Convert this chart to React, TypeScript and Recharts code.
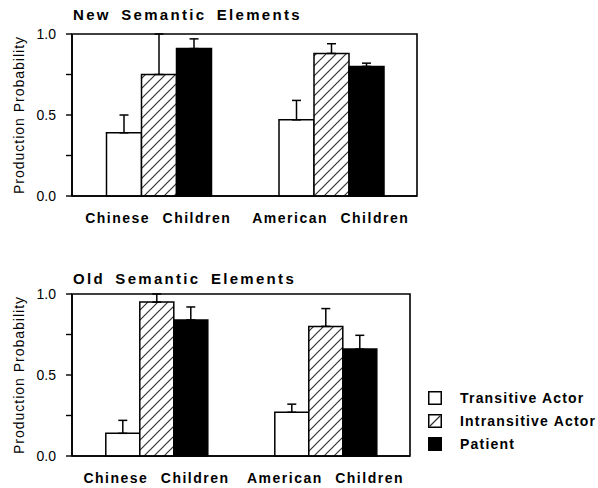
import { BarChart, Bar, XAxis, YAxis, ErrorBar, ReferenceArea, Label } from 'recharts';

const groups = ['Chinese Children', 'American Children'];
const seriesNames = ['Transitive Actor', 'Intransitive Actor', 'Patient'];

// New semantic elements: mean and upper error
const newTransitive = [0.39, 0.47];
const newTransitiveErr = [0.11, 0.12];
const newIntransitive = [0.75, 0.88];
const newIntransitiveErr = [0.25, 0.06];
const newPatient = [0.91, 0.80];
const newPatientErr = [0.06, 0.02];

// Old semantic elements
const oldTransitive = [0.14, 0.27];
const oldTransitiveErr = [0.08, 0.05];
const oldIntransitive = [0.95, 0.80];
const oldIntransitiveErr = [0.05, 0.11];
const oldPatient = [0.84, 0.66];
const oldPatientErr = [0.08, 0.085];

const yTicks = [0, 0.25, 0.5, 0.75, 1];

const buildRows = (t: number[], te: number[], i: number[], ie: number[], p: number[], pe: number[]) =>
  groups.map((group, k) => ({
    group,
    transitive: t[k],
    transitiveErr: [0, te[k]],
    intransitive: i[k],
    intransitiveErr: [0, ie[k]],
    patient: p[k],
    patientErr: [0, pe[k]],
  }));

const newData = buildRows(newTransitive, newTransitiveErr, newIntransitive, newIntransitiveErr, newPatient, newPatientErr);
const oldData = buildRows(oldTransitive, oldTransitiveErr, oldIntransitive, oldIntransitiveErr, oldPatient, oldPatientErr);

const FONT = '"Liberation Sans", Arial, Helvetica, sans-serif';

const titleStyle: React.CSSProperties = {
  position: 'absolute',
  left: 73,
  fontFamily: FONT,
  fontWeight: 'bold',
  fontSize: 15,
  letterSpacing: 2.3,
  wordSpacing: 4,
  color: '#000',
  whiteSpace: 'nowrap',
  lineHeight: '15px',
};

type PanelProps = {
  data: ReturnType<typeof buildRows>;
  rightMargin: number;
  patternId: string;
};

function Panel({ data, rightMargin, patternId }: PanelProps) {
  return (
    <BarChart
      width={598}
      height={240}
      data={data}
      margin={{ top: 34, right: rightMargin, bottom: 14, left: 0 }}
      barCategoryGap="20%"
      barGap={0}
    >
      <defs>
        <pattern id={patternId} patternUnits="userSpaceOnUse" width={10} height={10}>
          <rect width={10} height={10} fill="#fff" />
          <path d="M0,10 L10,0 M-2,2 L2,-2 M8,12 L12,8" stroke="#333" strokeWidth={1.2} />
        </pattern>
      </defs>
      <ReferenceArea y1={0} y2={1} fill="none" stroke="#000" strokeWidth={1.6} ifOverflow="visible" />
      <XAxis
        dataKey="group"
        height={30}
        tickLine={false}
        tickMargin={11}
        axisLine={{ stroke: '#000', strokeWidth: 1.6 }}
        tick={{
          fill: '#000',
          fontSize: 14,
          fontWeight: 'bold',
          fontFamily: FONT,
          style: { letterSpacing: 1.5, wordSpacing: 7 },
        }}
      />
      <YAxis
        width={72}
        domain={[0, 1]}
        ticks={yTicks}
        interval={0}
        tickSize={6}
        tickMargin={10}
        tickFormatter={(v: number) => (v === 0.25 || v === 0.75 ? '' : v.toFixed(1))}
        axisLine={{ stroke: '#000', strokeWidth: 1.6 }}
        tickLine={{ stroke: '#000', strokeWidth: 1.4 }}
        tick={{ fill: '#000', fontSize: 14, fontFamily: FONT }}
      >
        <Label
          value="Production Probability"
          angle={-90}
          position="insideLeft"
          offset={19}
          style={{ textAnchor: 'middle', fontSize: 14, fontFamily: FONT, fill: '#000', letterSpacing: 1 }}
        />
      </YAxis>
      <Bar dataKey="transitive" name={seriesNames[0]} fill="#fff" stroke="#000" strokeWidth={1.5} isAnimationActive={false}>
        <ErrorBar dataKey="transitiveErr" direction="y" width={4.5} stroke="#000" strokeWidth={1.5} />
      </Bar>
      <Bar dataKey="intransitive" name={seriesNames[1]} fill={`url(#${patternId})`} stroke="#000" strokeWidth={1.5} isAnimationActive={false}>
        <ErrorBar dataKey="intransitiveErr" direction="y" width={4.5} stroke="#000" strokeWidth={1.5} />
      </Bar>
      <Bar dataKey="patient" name={seriesNames[2]} fill="#000" stroke="#000" strokeWidth={1.5} isAnimationActive={false}>
        <ErrorBar dataKey="patientErr" direction="y" width={4.5} stroke="#000" strokeWidth={1.5} />
      </Bar>
    </BarChart>
  );
}

function Swatch({ kind }: { kind: number }) {
  return (
    <svg width={14} height={14} style={{ display: 'block' }}>
      <rect x={0.75} y={0.75} width={12.5} height={12.5} fill={kind === 2 ? '#000' : '#fff'} stroke="#000" strokeWidth={1.5} />
      {kind === 1 && <line x1={1.5} y1={12.5} x2={12.5} y2={1.5} stroke="#333" strokeWidth={1.2} />}
    </svg>
  );
}

function SeriesLegend() {
  return (
    <div style={{ position: 'absolute', left: 428, top: 386 }}>
      {seriesNames.map((name, k) => (
        <div key={name} style={{ display: 'flex', alignItems: 'center', height: 23 }}>
          <Swatch kind={k} />
          <span
            style={{
              marginLeft: 18,
              fontFamily: FONT,
              fontWeight: 'bold',
              fontSize: 14,
              letterSpacing: 1.2,
              color: '#000',
            }}
          >
            {name}
          </span>
        </div>
      ))}
    </div>
  );
}

export default function App() {
  return (
    <div style={{ position: 'absolute', left: 0, top: 0, width: 598, height: 488, background: '#fff', overflow: 'hidden' }}>
      <div style={{ ...titleStyle, top: 7 }}>New Semantic Elements</div>
      <div style={{ position: 'absolute', left: 0, top: 0 }}>
        <Panel data={newData} rightMargin={181} patternId="hatchNew" />
      </div>
      <div style={{ ...titleStyle, top: 271 }}>Old Semantic Elements</div>
      <div style={{ position: 'absolute', left: 0, top: 260 }}>
        <Panel data={oldData} rightMargin={188} patternId="hatchOld" />
      </div>
      <SeriesLegend />
    </div>
  );
}
